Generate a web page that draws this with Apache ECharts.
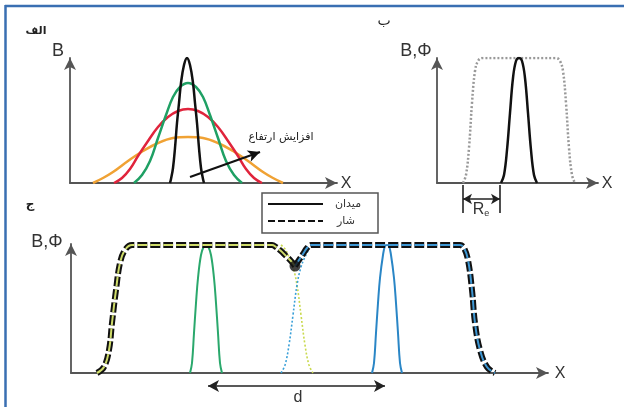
<!DOCTYPE html>
<html><head><meta charset="utf-8">
<script src="https://cdn.jsdelivr.net/npm/echarts@6/dist/echarts.min.js"></script>
<style>html,body{margin:0;padding:0;background:#fff}#c{width:624px;height:407px}</style>
</head><body><div id="c"></div>
<script>
// ---- Panel A (الف): B vs x, widening with height ----
const blackAX = [170,171,173,175,177,179,181,184,187,190,193,195,197,199,201,203,204];
const blackAY = [0,4,15,35,60,80,100,118,125,118,100,80,60,35,15,4,0];
const greenAX = [134,142,150,158,166,173,180,188,196,203,210,218,226,234,242];
const greenAY = [0,8,22,45,68,86,96,100,96,86,68,45,22,8,0];
const redAX = [114,122,130,138,148,158,168,178,188,198,208,218,228,238,246,254,262];
const redAY = [0,5,14,27,42,56,66,72,74,72,66,56,42,27,14,5,0];
const orangeAX = [93,103,113,128,143,158,173,188,203,218,233,248,263,273,283];
const orangeAY = [0,5,11,22,32,40,45,46,45,40,32,22,11,5,0];
const arrowA = [[190,6],[260,31]];
// ---- Panel B (ب) ----
const trapX = [463,466,469,472,475,478,482,556,560,563,566,569,572,575];
const trapY = [0,8,35,80,112,122,125,125,122,112,80,35,8,0];
const blackBX = [501,504,507,510,513,516,519,522,525,528,531,534,537];
const blackBY = [0,8,33,70,105,122,125,122,105,70,33,8,0];
const reMarks = [463,500];
// ---- Panel C (ج) ----
const phiLeftX = [97,104,109,112,116,120,125,132,200,272,276,281,286,291,295];
const phiLeftY = [0,6,23,50,83,110,123,128,128,128,126,122,117,112,107];
const phiRightX = [295,299,303,307,311,317,390,455,460,464,468,472,475,480,487,495];
const phiRightY = [107,113,119,125,128,128,128,128,128,125,113,83,50,23,6,0];
const leftTailX = [281,285,289,293,297,301,305,309,313];
const leftTailY = [128,124,116,106,88,58,28,8,0];
const rightTailX = [281,285,289,293,297,301,305,309];
const rightTailY = [0,8,28,58,88,106,116,124];
const greenCX = [190,192,194,196,198,201,204,206,208,211,214,216,218,220,222];
const blueCX = [372,374,376,378,380,383,385,387,389,391,394,396,398,400,402];
const peakCY = [0,10,40,70,95,118,127,128,127,118,95,70,40,10,0];
const dipPoint = [[295,107]];
const dArrow = [208,385];

const zip = (xs, ys) => xs.map((x,i)=>[x,ys[i]]);
const axLine = {show:true, symbol:['none','arrow'], symbolSize:[9,12], lineStyle:{color:'#555', width:1.8}};
const hidden = {axisLabel:{show:false}, axisTick:{show:false}, splitLine:{show:false}};
function xa(gi,min,max,show){return Object.assign({type:'value',gridIndex:gi,min,max,axisLine:show?axLine:{show:false}},hidden);}
function ya(gi,min,max,show,inv){return Object.assign({type:'value',gridIndex:gi,min,max,inverse:!!inv,axisLine:show?axLine:{show:false}},hidden);}
function line(gi,data,color,width,type,extra){return Object.assign({type:'line',xAxisIndex:gi,yAxisIndex:gi,data,smooth:0.4,showSymbol:false,symbol:'none',silent:true,lineStyle:{color,width,type:type||'solid'},z:3},extra||{});}
const mlBase = {silent:true, label:{show:false}, animation:false};

const chart = echarts.init(document.getElementById('c'));
chart.setOption({
  animation:false,
  textStyle:{fontFamily:'Liberation Sans'},
  grid:[
    {left:70, top:58, width:267, height:125},
    {left:437, top:58, width:161, height:125},
    {left:71, top:244, width:477, height:129},
    {left:437, top:183, width:161, height:32},
    {left:71, top:373, width:477, height:30}
  ],
  xAxis:[xa(0,70,337,true), xa(1,437,598,true), xa(2,71,548,true), xa(3,437,598,false), xa(4,71,548,false)],
  yAxis:[ya(0,0,125,true), ya(1,0,125,true), ya(2,0,129,true), ya(3,0,32,false,true), ya(4,0,30,false,true)],
  series:[
    line(0, zip(orangeAX,orangeAY), '#f0a234', 2.5),
    line(0, zip(redAX,redAY), '#e0243c', 2.5),
    line(0, zip(greenAX,greenAY), '#1fa064', 2.5),
    line(0, zip(blackAX,blackAY), '#111', 2.5, 'solid', {markLine:Object.assign({}, mlBase, {symbol:['none','arrow'], symbolSize:[9,12], lineStyle:{color:'#111',width:2.2,type:'solid'}, data:[[{coord:arrowA[0]},{coord:arrowA[1]}]]})}),
    line(1, zip(trapX,trapY), '#999', 2.5, [2,2]),
    line(1, zip(blackBX,blackBY), '#111', 2.5),
    {type:'scatter', xAxisIndex:3, yAxisIndex:3, symbolSize:0, data:[[reMarks[0],16],[reMarks[1],16]], silent:true,
     markLine:Object.assign({}, mlBase, {symbol:['none','none'], lineStyle:{color:'#222',width:1.6,type:'solid'},
       data:[[{coord:[reMarks[0],2]},{coord:[reMarks[0],30]}],[{coord:[reMarks[1],2]},{coord:[reMarks[1],30]}],
             [{coord:[reMarks[0],16], symbol:'arrow', symbolSize:[8,9]},{coord:[reMarks[1],16], symbol:'arrow', symbolSize:[8,9]}]]})},
    line(2, zip(greenCX,peakCY), '#2aa86c', 2),
    line(2, zip(blueCX,peakCY), '#2a86c6', 2),
    line(2, zip(leftTailX,leftTailY), '#c9d94e', 1.6, [2,2]),
    line(2, zip(rightTailX,rightTailY), '#3aa0d8', 1.6, [2,2]),
    line(2, zip(phiLeftX,phiLeftY), '#111', 6, [10,3], {z:4}),
    line(2, zip(phiLeftX,phiLeftY), '#cfdc6a', 2, [10,3], {z:5}),
    line(2, zip(phiRightX,phiRightY), '#111', 6, [10,3], {z:4}),
    line(2, zip(phiRightX,phiRightY), '#3d96d2', 2, [10,3], {z:5}),
    {type:'scatter', xAxisIndex:2, yAxisIndex:2, data:dipPoint, symbol:'circle', symbolSize:11, itemStyle:{color:'#111'}, silent:true, z:6},
    {type:'scatter', xAxisIndex:4, yAxisIndex:4, symbolSize:0, data:[[dArrow[0],13],[dArrow[1],13]], silent:true,
     markLine:Object.assign({}, mlBase, {symbol:['arrow','arrow'], symbolSize:[9,11], lineStyle:{color:'#222',width:1.6,type:'solid'},
       data:[[{coord:[dArrow[0],13]},{coord:[dArrow[1],13]}]]})}
  ],
  graphic:[
    {type:'line', shape:{x1:5,y1:6,x2:624,y2:6}, style:{stroke:'#3a6fb2', lineWidth:2.5}, silent:true},
    {type:'line', shape:{x1:5.5,y1:5,x2:5.5,y2:407}, style:{stroke:'#3a6fb2', lineWidth:2.5}, silent:true},
    {type:'text', x:36, y:31, style:{text:'الف', font:'bold 11px "DejaVu Sans"', fill:'#222', align:'center', verticalAlign:'middle'}},
    {type:'text', x:58, y:51, style:{text:'B', font:'18px "Liberation Sans"', fill:'#333', align:'center', verticalAlign:'middle'}},
    {type:'text', x:346, y:184, style:{text:'X', font:'16px "Liberation Sans"', fill:'#333', align:'center', verticalAlign:'middle'}},
    {type:'text', x:281, y:137, style:{text:'افزایش ارتفاع', font:'11px "DejaVu Sans"', fill:'#222', align:'center', verticalAlign:'middle'}},
    {type:'text', x:384, y:21, style:{text:'ب', font:'14px "DejaVu Sans"', fill:'#222', align:'center', verticalAlign:'middle'}},
    {type:'text', x:416, y:51, style:{text:'B,Φ', font:'18px "Liberation Sans"', fill:'#333', align:'center', verticalAlign:'middle'}},
    {type:'text', x:607, y:184, style:{text:'X', font:'16px "Liberation Sans"', fill:'#333', align:'center', verticalAlign:'middle'}},
    {type:'text', x:481, y:210, style:{text:'{r|R}{e|e}', rich:{r:{font:'16px "Liberation Sans"', fill:'#333'}, e:{font:'9px "Liberation Sans"', fill:'#333', padding:[8,0,0,0]}}, align:'center', verticalAlign:'middle'}},
    {type:'text', x:30, y:205, style:{text:'ج', font:'bold 12px "DejaVu Sans"', fill:'#222', align:'center', verticalAlign:'middle'}},
    {type:'text', x:47, y:242, style:{text:'B,Φ', font:'18px "Liberation Sans"', fill:'#333', align:'center', verticalAlign:'middle'}},
    {type:'text', x:560, y:374, style:{text:'X', font:'16px "Liberation Sans"', fill:'#333', align:'center', verticalAlign:'middle'}},
    {type:'text', x:298, y:398, style:{text:'d', font:'16px "Liberation Sans"', fill:'#333', align:'center', verticalAlign:'middle'}},
    {type:'rect', shape:{x:262, y:193, width:116, height:40}, style:{fill:'#fff', stroke:'#555', lineWidth:1.5}, z:10},
    {type:'line', shape:{x1:268,y1:204,x2:323,y2:204}, style:{stroke:'#111', lineWidth:2}, z:11},
    {type:'line', shape:{x1:268,y1:221,x2:323,y2:221}, style:{stroke:'#111', lineWidth:2, lineDash:[7,3]}, z:11},
    {type:'text', x:348, y:204, style:{text:'میدان', font:'11px "DejaVu Sans"', fill:'#333', align:'center', verticalAlign:'middle'}, z:11},
    {type:'text', x:346, y:221, style:{text:'شار', font:'11px "DejaVu Sans"', fill:'#333', align:'center', verticalAlign:'middle'}, z:11}
  ]
});
</script></body></html>
